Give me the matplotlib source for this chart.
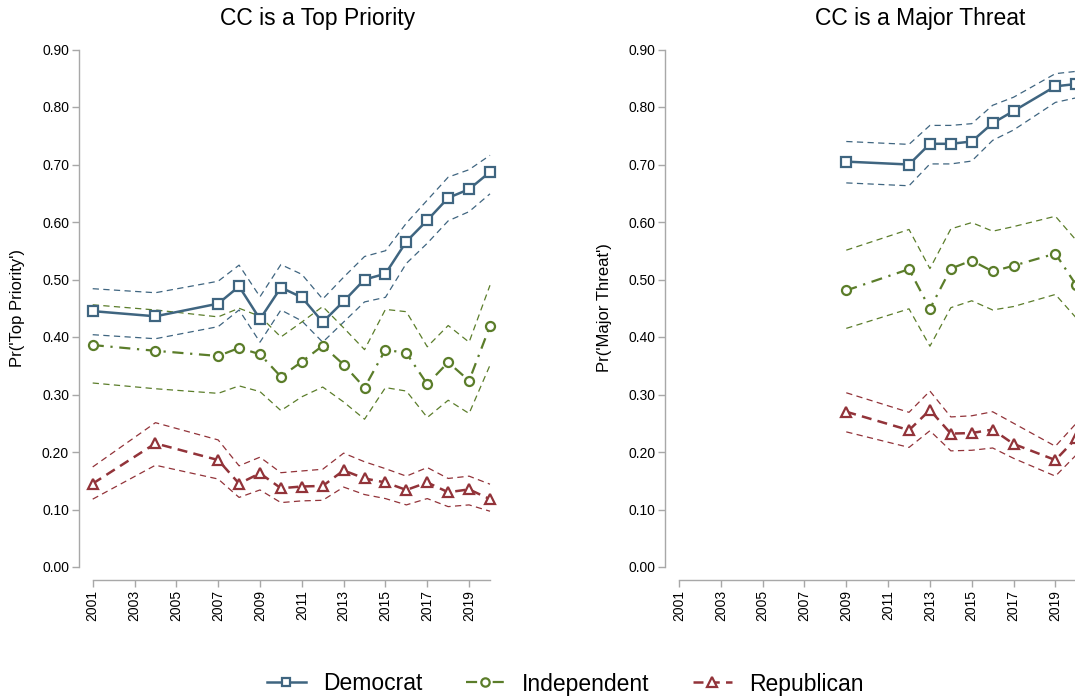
import matplotlib
matplotlib.use("Agg")
import matplotlib.pyplot as plt
from matplotlib.lines import Line2D

plt.rcParams["font.family"] = ["Liberation Sans", "DejaVu Sans"]

# ---- CC is a Top Priority ----
years_tp = [2001, 2004, 2007, 2008, 2009, 2010, 2011, 2012, 2013, 2014,
            2015, 2016, 2017, 2018, 2019, 2020]
dem_tp = [0.445, 0.436, 0.458, 0.488, 0.431, 0.486, 0.469, 0.426, 0.462, 0.500,
          0.510, 0.566, 0.603, 0.642, 0.657, 0.687]
dem_tp_hi = [0.484, 0.477, 0.497, 0.525, 0.470, 0.526, 0.509, 0.466, 0.504, 0.540,
             0.550, 0.598, 0.638, 0.678, 0.691, 0.716]
dem_tp_lo = [0.404, 0.397, 0.418, 0.447, 0.391, 0.447, 0.428, 0.391, 0.426, 0.461,
             0.469, 0.528, 0.563, 0.602, 0.618, 0.649]
ind_tp = [0.386, 0.376, 0.367, 0.381, 0.370, 0.331, 0.357, 0.385, 0.352, 0.312,
          0.378, 0.372, 0.318, 0.356, 0.324, 0.419]
ind_tp_hi = [0.456, 0.447, 0.435, 0.450, 0.436, 0.400, 0.426, 0.453, 0.416, 0.378,
             0.448, 0.444, 0.383, 0.420, 0.391, 0.490]
ind_tp_lo = [0.320, 0.310, 0.302, 0.315, 0.305, 0.272, 0.296, 0.313, 0.287, 0.257,
             0.312, 0.306, 0.260, 0.290, 0.267, 0.351]
rep_tp = [0.145, 0.215, 0.186, 0.145, 0.163, 0.137, 0.140, 0.141, 0.168, 0.154,
          0.147, 0.134, 0.147, 0.130, 0.135, 0.118]
rep_tp_hi = [0.174, 0.251, 0.221, 0.176, 0.191, 0.164, 0.167, 0.170, 0.198, 0.183,
             0.171, 0.158, 0.173, 0.154, 0.158, 0.144]
rep_tp_lo = [0.118, 0.177, 0.153, 0.121, 0.134, 0.112, 0.115, 0.116, 0.139, 0.126,
             0.119, 0.108, 0.119, 0.105, 0.108, 0.097]

# ---- CC is a Major Threat ----
years_mt = [2009, 2012, 2013, 2014, 2015, 2016, 2017, 2019, 2020]
dem_mt = [0.705, 0.700, 0.736, 0.736, 0.740, 0.772, 0.793, 0.836, 0.840]
dem_mt_hi = [0.740, 0.735, 0.768, 0.768, 0.771, 0.803, 0.817, 0.858, 0.862]
dem_mt_lo = [0.668, 0.663, 0.701, 0.701, 0.706, 0.742, 0.760, 0.808, 0.816]
ind_mt = [0.481, 0.518, 0.449, 0.519, 0.533, 0.514, 0.524, 0.545, 0.490]
ind_mt_hi = [0.551, 0.587, 0.519, 0.588, 0.599, 0.584, 0.592, 0.610, 0.568]
ind_mt_lo = [0.415, 0.449, 0.384, 0.451, 0.463, 0.447, 0.453, 0.474, 0.433]
rep_mt = [0.270, 0.238, 0.273, 0.232, 0.233, 0.239, 0.214, 0.186, 0.224]
rep_mt_hi = [0.303, 0.269, 0.306, 0.261, 0.263, 0.270, 0.250, 0.210, 0.250]
rep_mt_lo = [0.235, 0.208, 0.237, 0.202, 0.203, 0.207, 0.189, 0.158, 0.195]

parties = ["Democrat", "Independent", "Republican"]
x_ticks = list(range(2001, 2020, 2))
y_ticks = [0.0, 0.1, 0.2, 0.3, 0.4, 0.5, 0.6, 0.7, 0.8, 0.9]

BLUE = "#3f6580"
GREEN = "#5b7d2a"
RED = "#923339"
AXIS_GREY = "#a8a8a8"

styles = {
    "Democrat": dict(color=BLUE, ls="-", marker="s", ms=6.5, lw=1.8),
    "Independent": dict(color=GREEN, ls=(0, (5, 3, 1, 3)), marker="o", ms=6.5, lw=1.6),
    "Republican": dict(color=RED, ls=(0, (4, 2.5)), marker="^", ms=7.5, lw=1.8),
}

W, H = 1075, 697
fig = plt.figure(figsize=(W / 100, H / 100), dpi=100)
fig.patch.set_facecolor("white")


def px_x(x):
    return x / W


def px_y(y):
    return 1 - y / H


def draw_panel(ax, years, series, title_x, title, ylabel_x, ylabel):
    for name, (mid, hi, lo) in zip(parties, series):
        st = styles[name]
        for band in (hi, lo):
            ax.plot(years, band, color=st["color"], lw=0.9, ls=(0, (5, 3.5)),
                    clip_on=False, zorder=2)
        ax.plot(years, mid, color=st["color"], lw=st["lw"], ls=st["ls"],
                marker=st["marker"], ms=st["ms"], mfc="white",
                mec=st["color"], mew=1.6, clip_on=False, zorder=3)
    ax.set_xlim(2001, 2020)
    ax.set_ylim(0, 0.9)
    ax.set_xticks(x_ticks)
    ax.set_xticklabels([str(t) for t in x_ticks], fontsize=8.3)
    ax.set_yticks(y_ticks)
    ax.set_yticklabels([f"{t:.2f}" for t in y_ticks], fontsize=8.3)
    for side in ("top", "right"):
        ax.spines[side].set_visible(False)
    ax.spines["left"].set_position(("outward", 10))
    ax.spines["bottom"].set_position(("outward", 9.5))
    ax.spines["left"].set_bounds(0, 0.9)
    ax.spines["bottom"].set_bounds(2001, 2020)
    for side in ("left", "bottom"):
        ax.spines[side].set_color(AXIS_GREY)
        ax.spines[side].set_linewidth(1.0)
    ax.tick_params(axis="both", colors=AXIS_GREY, labelcolor="black",
                   length=5, width=1.0, pad=2)
    ax.tick_params(axis="x", labelrotation=90)
    ax.set_facecolor("white")
    fig.text(px_x(title_x), px_y(18), title, ha="center", va="center", fontsize=16.5)
    fig.text(px_x(ylabel_x), px_y(308), ylabel, ha="center", va="center",
             rotation=90, fontsize=12)


ax_w = (490 - 92.7) / W
ax_h = (567 - 49.5) / H
ax1 = fig.add_axes([px_x(92.7), px_y(567), ax_w, ax_h])
ax2 = fig.add_axes([px_x(679), px_y(567), ax_w, ax_h])

draw_panel(ax1, years_tp,
           [(dem_tp, dem_tp_hi, dem_tp_lo), (ind_tp, ind_tp_hi, ind_tp_lo),
            (rep_tp, rep_tp_hi, rep_tp_lo)],
           318, "CC is a Top Priority", 18, "Pr('Top Priority')")
draw_panel(ax2, years_mt,
           [(dem_mt, dem_mt_hi, dem_mt_lo), (ind_mt, ind_mt_hi, ind_mt_lo),
            (rep_mt, rep_mt_hi, rep_mt_lo)],
           920, "CC is a Major Threat", 605, "Pr('Major Threat')")

handles = []
for name in parties:
    st = styles[name]
    handles.append(Line2D([], [], color=st["color"], lw=st["lw"], ls=st["ls"],
                          marker=st["marker"], ms=st["ms"] - 0.5, mfc="white",
                          mec=st["color"], mew=1.6))
fig.legend(handles, parties, loc="center", ncol=3,
           bbox_to_anchor=(px_x(565), px_y(684)), frameon=False,
           fontsize=16.5, handlelength=1.7, handletextpad=0.75, columnspacing=1.9)

fig.savefig("out.png", dpi=100, facecolor="white")
